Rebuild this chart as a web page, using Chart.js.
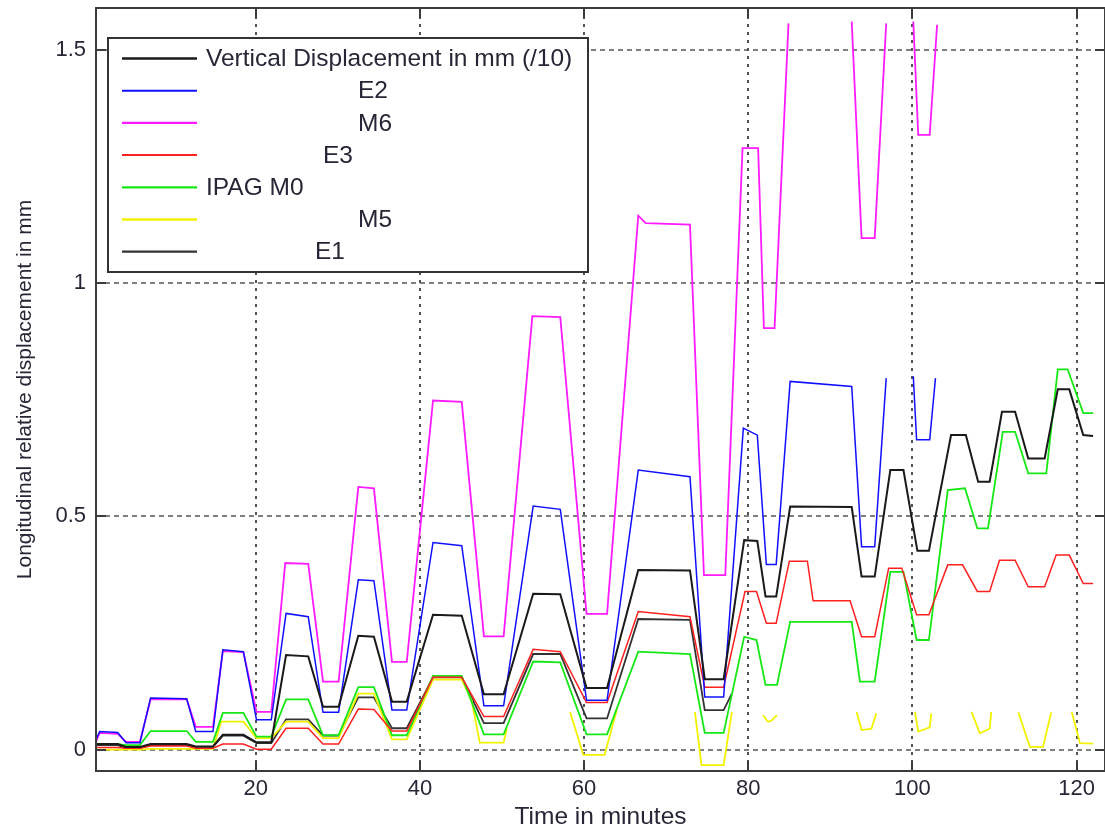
<!DOCTYPE html>
<html>
<head>
<meta charset="utf-8">
<title>Longitudinal relative displacement</title>
<script src="https://cdn.jsdelivr.net/npm/chart.js@4"></script>
<style>
  html, body { margin: 0; padding: 0; background: #fff; }
  canvas { display: block; }
</style>
</head>
<body>
<canvas id="myChart" width="1105" height="832"></canvas>
<script>
// tick labels
const timeTicks = [20, 40, 60, 80, 100, 120];
const dispTicks = [0, 0.5, 1, 1.5];

// Vertical Displacement in mm (/10)
const vertTime = [0.5, 3.2, 4.2, 5.9, 7.2, 11.6, 12.7, 14.8, 16.0, 18.5, 20.1, 21.9, 23.7, 26.4, 28.2, 30.1, 32.5, 34.4, 36.6, 38.4, 41.6, 45.1, 47.8, 50.2, 53.8, 57.1, 60.3, 62.8, 66.6, 72.9, 74.7, 77.0, 79.5, 81.1, 82.1, 83.4, 85.1, 92.6, 93.8, 95.4, 97.3, 98.9, 100.6, 102.0, 104.7, 106.5, 108.0, 109.4, 110.9, 112.5, 114.1, 116.1, 117.7, 119.1, 120.8, 122.0];
const vertValues = [0.012, 0.012, 0.006, 0.006, 0.012, 0.012, 0.007, 0.007, 0.032, 0.032, 0.016, 0.016, 0.203, 0.200, 0.092, 0.092, 0.244, 0.242, 0.103, 0.103, 0.289, 0.287, 0.119, 0.119, 0.334, 0.333, 0.132, 0.132, 0.385, 0.384, 0.151, 0.151, 0.449, 0.447, 0.328, 0.328, 0.521, 0.520, 0.371, 0.371, 0.599, 0.599, 0.426, 0.426, 0.674, 0.674, 0.574, 0.574, 0.724, 0.724, 0.624, 0.624, 0.772, 0.772, 0.674, 0.672];

// E2
const e2Time = [0.5, 1.0, 3.2, 4.2, 5.9, 7.2, 11.6, 12.7, 14.8, 16.0, 18.5, 20.1, 21.9, 23.7, 26.4, 28.2, 30.1, 32.5, 34.4, 36.6, 38.4, 41.6, 45.1, 47.8, 50.2, 53.8, 57.1, 60.3, 62.8, 66.6, 72.9, 74.7, 77.0, 79.4, 81.1, 82.2, 83.4, 85.1, 92.6, 93.8, 95.4, 96.8, 97.0, 100.1, 100.5, 102.1, 102.8];
const e2Values = [0.020, 0.039, 0.037, 0.015, 0.015, 0.111, 0.109, 0.039, 0.039, 0.214, 0.210, 0.064, 0.064, 0.292, 0.285, 0.080, 0.080, 0.364, 0.362, 0.085, 0.085, 0.444, 0.437, 0.094, 0.094, 0.522, 0.515, 0.106, 0.106, 0.599, 0.585, 0.113, 0.113, 0.689, 0.674, 0.397, 0.397, 0.789, 0.778, 0.435, 0.435, 0.796, null, 0.800, 0.664, 0.664, 0.796];

// M6 (sensor out of range above ~1.56)
const m6Time = [0.5, 1.0, 3.2, 4.2, 5.9, 7.2, 11.6, 12.7, 14.8, 16.0, 18.5, 20.1, 21.9, 23.6, 26.4, 28.2, 30.1, 32.5, 34.4, 36.6, 38.4, 41.6, 45.1, 47.8, 50.2, 53.7, 57.1, 60.3, 62.8, 66.6, 67.5, 72.9, 74.6, 77.2, 79.3, 81.2, 81.9, 83.2, 84.9, 85.5, 92.6, 93.8, 95.4, 96.8, 97.0, 100.1, 100.7, 102.1, 103.0];
const m6Values = [0.015, 0.036, 0.034, 0.017, 0.017, 0.108, 0.108, 0.049, 0.049, 0.211, 0.209, 0.081, 0.081, 0.400, 0.398, 0.146, 0.146, 0.563, 0.560, 0.188, 0.188, 0.748, 0.745, 0.243, 0.243, 0.929, 0.927, 0.291, 0.291, 1.144, 1.128, 1.125, 0.374, 0.374, 1.289, 1.289, 0.903, 0.903, 1.556, null, 1.560, 1.096, 1.096, 1.556, null, 1.560, 1.317, 1.317, 1.553];

// E3
const e3Time = [0.5, 3.2, 4.2, 5.9, 7.2, 11.6, 12.7, 14.8, 16.0, 18.5, 20.1, 21.9, 23.7, 26.4, 28.2, 30.1, 32.5, 34.4, 36.6, 38.4, 41.6, 45.1, 47.8, 50.2, 53.8, 57.1, 60.3, 62.8, 66.6, 72.9, 74.7, 77.0, 79.6, 81.0, 82.2, 83.4, 85.0, 87.2, 87.9, 92.4, 93.8, 95.4, 97.1, 98.7, 100.5, 102.0, 104.3, 106.1, 107.9, 109.4, 110.6, 112.5, 114.1, 116.1, 117.5, 119.1, 120.8, 122.0];
const e3Values = [0.005, 0.005, 0.003, 0.003, 0.008, 0.008, 0.003, 0.003, 0.012, 0.012, 0.001, 0.001, 0.046, 0.046, 0.012, 0.012, 0.087, 0.086, 0.040, 0.040, 0.155, 0.155, 0.071, 0.071, 0.215, 0.210, 0.101, 0.101, 0.296, 0.285, 0.134, 0.134, 0.339, 0.339, 0.271, 0.271, 0.404, 0.404, 0.319, 0.319, 0.242, 0.242, 0.389, 0.389, 0.289, 0.289, 0.396, 0.396, 0.339, 0.339, 0.406, 0.406, 0.349, 0.349, 0.417, 0.417, 0.356, 0.356];

// IPAG M0
const m0Time = [0.5, 3.2, 4.2, 5.9, 7.2, 11.6, 12.7, 14.8, 16.0, 18.5, 20.1, 21.9, 23.7, 26.4, 28.2, 30.1, 32.5, 34.4, 36.6, 38.4, 41.6, 45.1, 47.8, 50.2, 53.8, 57.1, 60.3, 62.8, 66.6, 72.9, 74.7, 77.0, 79.5, 81.0, 82.1, 83.5, 85.1, 92.6, 93.6, 95.4, 97.3, 98.9, 100.5, 102.0, 104.3, 106.4, 107.9, 109.2, 111.0, 112.5, 114.1, 116.3, 117.7, 118.9, 120.8, 122.0];
const m0Values = [0.012, 0.012, 0.010, 0.010, 0.040, 0.040, 0.017, 0.017, 0.079, 0.079, 0.028, 0.028, 0.108, 0.108, 0.031, 0.031, 0.134, 0.134, 0.031, 0.031, 0.158, 0.158, 0.033, 0.033, 0.189, 0.187, 0.033, 0.033, 0.210, 0.205, 0.036, 0.036, 0.242, 0.235, 0.139, 0.139, 0.274, 0.274, 0.146, 0.146, 0.381, 0.381, 0.235, 0.235, 0.556, 0.560, 0.474, 0.474, 0.681, 0.681, 0.592, 0.592, 0.815, 0.815, 0.721, 0.721];

// M5 (only pieces left after ~46 min)
const m5Time = [0.5, 3.2, 4.2, 5.9, 7.2, 11.6, 12.7, 14.8, 15.8, 18.5, 20.1, 21.9, 23.7, 26.4, 28.2, 30.1, 32.5, 34.4, 36.6, 38.4, 41.6, 45.1, 46.3, 47.3, 50.2, 50.6, 51.0, 58.3, 59.9, 62.5, 64.0, 64.5, 73.5, 74.3, 77.0, 78.0, 78.5, 81.8, 82.4, 82.8, 83.5, 84.0, 93.2, 93.8, 95.0, 95.6, 96.0, 100.3, 100.7, 102.1, 102.3, 103.0, 107.2, 108.2, 109.4, 109.6, 110.0, 112.9, 114.3, 115.9, 116.9, 117.5, 119.4, 120.4, 122.0];
const m5Values = [0.000, 0.000, 0.000, 0.000, 0.002, 0.002, 0.002, 0.002, 0.060, 0.060, 0.025, 0.025, 0.060, 0.060, 0.025, 0.025, 0.120, 0.120, 0.022, 0.022, 0.150, 0.150, 0.106, 0.015, 0.015, 0.045, null, 0.081, -0.011, -0.011, 0.086, null, 0.081, -0.033, -0.033, 0.081, null, 0.074, 0.060, 0.062, 0.074, null, 0.081, 0.042, 0.045, 0.078, null, 0.081, 0.039, 0.048, 0.078, null, 0.081, 0.035, 0.045, 0.081, null, 0.080, 0.006, 0.006, 0.080, null, 0.081, 0.014, 0.013];

// E1
const e1Time = [0.5, 3.2, 4.2, 5.9, 7.2, 11.6, 12.7, 14.8, 16.0, 18.5, 20.1, 21.9, 23.7, 26.4, 28.2, 30.1, 32.5, 34.4, 36.6, 38.4, 41.6, 45.1, 47.8, 50.2, 53.8, 57.1, 60.3, 62.8, 66.6, 72.9, 74.7, 77.0, 78.0];
const e1Values = [0.010, 0.010, 0.004, 0.004, 0.010, 0.010, 0.006, 0.006, 0.030, 0.030, 0.014, 0.014, 0.065, 0.065, 0.030, 0.030, 0.112, 0.112, 0.046, 0.046, 0.155, 0.155, 0.057, 0.057, 0.205, 0.205, 0.067, 0.067, 0.280, 0.278, 0.085, 0.085, 0.120];

// where the visible part of each legend label starts (rest of the label is blanked in the original)
const legendTextX = [206, 358, 358, 323, 206, 358, 315];

const FONT = "'Liberation Sans', Arial, sans-serif";
const TEXT = '#262636';

function points(times, values) {
    const out = [];
    for (let i = 0; i < Math.min(times.length, values.length); i++) {
        out.push({ x: times[i], y: values[i] });
    }
    return out;
}

function series(label, times, values, color, width) {
    return {
        label: label,
        data: points(times, values),
        borderColor: color,
        backgroundColor: color,
        borderWidth: width,
        pointRadius: 0,
        tension: 0,
        spanGaps: false
    };
}

// dotted grid under the lines
const gridPlugin = {
    id: 'matlabGrid',
    beforeDatasetsDraw(chart) {
        const { ctx, chartArea: a, scales } = chart;
        ctx.save();
        ctx.lineWidth = 1.6;
        ctx.strokeStyle = '#2a2a2a';
        ctx.setLineDash([3, 5]);
        timeTicks.forEach(function (t) {
            const px = Math.round(scales.x.getPixelForValue(t));
            ctx.beginPath(); ctx.moveTo(px, a.top); ctx.lineTo(px, a.bottom); ctx.stroke();
        });
        ctx.strokeStyle = '#555';
        ctx.setLineDash([5, 4]);
        dispTicks.forEach(function (v) {
            const py = Math.round(scales.y.getPixelForValue(v));
            ctx.beginPath(); ctx.moveTo(a.left, py); ctx.lineTo(a.right, py); ctx.stroke();
        });
        ctx.restore();
    },
    afterDatasetsDraw(chart) {
        const { ctx, chartArea: a, scales } = chart;
        ctx.save();
        ctx.setLineDash([]);
        ctx.strokeStyle = '#3c3c3c';
        ctx.lineWidth = 2;
        ctx.strokeRect(a.left, a.top, a.right - a.left, a.bottom - a.top);
        // inward tick marks
        timeTicks.forEach(function (t) {
            const px = Math.round(scales.x.getPixelForValue(t));
            ctx.beginPath();
            ctx.moveTo(px, a.bottom); ctx.lineTo(px, a.bottom - 10);
            ctx.moveTo(px, a.top); ctx.lineTo(px, a.top + 10);
            ctx.stroke();
        });
        dispTicks.forEach(function (v) {
            const py = Math.round(scales.y.getPixelForValue(v));
            ctx.beginPath();
            ctx.moveTo(a.left, py); ctx.lineTo(a.left + 10, py);
            ctx.moveTo(a.right, py); ctx.lineTo(a.right - 10, py);
            ctx.stroke();
        });
        ctx.restore();
    }
};

// boxed legend in the upper left corner
const legendPlugin = {
    id: 'boxLegend',
    afterDraw(chart) {
        const ctx = chart.ctx;
        const sets = chart.data.datasets;
        ctx.save();
        ctx.fillStyle = '#fff';
        ctx.fillRect(108, 38, 480, 234);
        ctx.strokeStyle = '#333';
        ctx.lineWidth = 2;
        ctx.strokeRect(108, 38, 480, 234);
        ctx.font = '24.5px ' + FONT;
        ctx.textBaseline = 'middle';
        sets.forEach(function (ds, i) {
            const y = 58.5 + i * 32.2;
            ctx.strokeStyle = ds.borderColor;
            ctx.lineWidth = ds.borderWidth + 0.5;
            ctx.beginPath(); ctx.moveTo(122, y); ctx.lineTo(197, y); ctx.stroke();
            ctx.fillStyle = TEXT;
            ctx.fillText(ds.label, legendTextX[i], y + 1);
        });
        ctx.restore();
    }
};

const myChart = new Chart(document.getElementById('myChart'), {
    type: 'line',
    data: {
        datasets: [
            series('Vertical Displacement in mm (/10)', vertTime, vertValues, '#1a1a1a', 2),
            series('E2', e2Time, e2Values, '#1010ff', 1.5),
            series('M6', m6Time, m6Values, '#ff1aff', 1.8),
            series('E3', e3Time, e3Values, '#ff2020', 1.5),
            series('IPAG M0', m0Time, m0Values, '#16e816', 1.8),
            series('M5', m5Time, m5Values, '#f2f200', 1.8),
            series('E1', e1Time, e1Values, '#333333', 1.8)
        ]
    },
    options: {
        responsive: false,
        animation: false,
        layout: { padding: { top: 8, right: 0, bottom: 0, left: 0 } },
        plugins: {
            legend: { display: false },
            tooltip: { enabled: false }
        },
        scales: {
            x: {
                type: 'linear',
                min: 0.55,
                max: 123.45,
                grid: { display: false, drawTicks: false },
                border: { display: false },
                afterBuildTicks: function (scale) {
                    scale.ticks = timeTicks.map(function (v) { return { value: v }; });
                },
                afterFit: function (scale) {
                    scale.height = 61;
                    scale.paddingLeft = 0;
                    scale.paddingRight = 0;
                },
                ticks: {
                    padding: 5,
                    color: TEXT,
                    font: { family: FONT, size: 22 },
                    maxRotation: 0
                },
                title: {
                    display: true,
                    text: 'Time in minutes',
                    color: TEXT,
                    font: { family: FONT, size: 24.5 },
                    padding: { top: 0, bottom: 0 }
                }
            },
            y: {
                min: -0.0456,
                max: 1.589,
                grid: { display: false, drawTicks: false },
                border: { display: false },
                afterBuildTicks: function (scale) {
                    scale.ticks = dispTicks.map(function (v) { return { value: v }; });
                },
                afterFit: function (scale) {
                    scale.width = 96;
                    scale.paddingTop = 0;
                    scale.paddingBottom = 0;
                },
                ticks: {
                    padding: 10,
                    color: TEXT,
                    font: { family: FONT, size: 22 },
                    callback: function (v) { return String(v); }
                },
                title: {
                    display: true,
                    text: 'Longitudinal relative displacement in mm',
                    color: TEXT,
                    font: { family: FONT, size: 21 },
                    padding: { top: 13, bottom: 0 }
                }
            }
        }
    },
    plugins: [gridPlugin, legendPlugin]
});
</script>
</body>
</html>
